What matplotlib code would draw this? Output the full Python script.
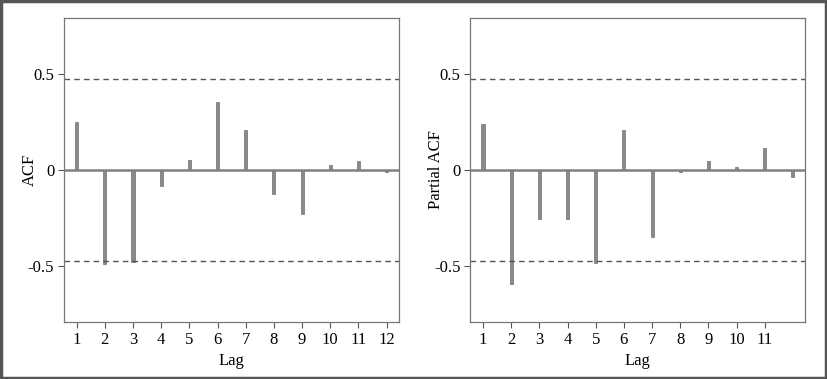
import matplotlib
matplotlib.use("Agg")
import matplotlib.pyplot as plt
from matplotlib.patches import Rectangle

lags = [1, 2, 3, 4, 5, 6, 7, 8, 9, 10, 11, 12]
acf_vals = [0.247, -0.490, -0.476, -0.082, 0.054, 0.351, 0.208, -0.125, -0.229, 0.028, 0.049, -0.009]
pacf_vals = [0.238, -0.592, -0.257, -0.257, -0.481, 0.208, -0.349, -0.009, 0.049, 0.017, 0.116, -0.036]
conf = 0.475
acf_ticks = [1, 2, 3, 4, 5, 6, 7, 8, 9, 10, 11, 12]
pacf_ticks = [1, 2, 3, 4, 5, 6, 7, 8, 9, 10, 11]

plt.rcParams['font.family'] = ['Liberation Serif', 'DejaVu Serif']
plt.rcParams['font.size'] = 12

fig = plt.figure(figsize=(8.27, 3.79), dpi=100)
fig.patches.append(Rectangle((0.0015, 0.002), 0.997, 0.995, transform=fig.transFigure,
                             fill=False, edgecolor='#555555', linewidth=2.5))

ax1 = fig.add_axes([0.0774, 0.1504, 0.4051, 0.8021])
ax2 = fig.add_axes([0.5687, 0.1504, 0.4051, 0.8021])

for ax, vals, ticks, ylab in [(ax1, acf_vals, acf_ticks, 'ACF'),
                              (ax2, pacf_vals, pacf_ticks, 'Partial ACF')]:
    ax.bar(lags, vals, width=0.11, color='#8a8a8a', edgecolor='#707070', linewidth=0.5)
    ax.axhline(0, color='#808080', linewidth=1.8)
    ax.axhline(conf, color='#555555', linewidth=1, linestyle=(0, (4, 3)))
    ax.axhline(-conf, color='#555555', linewidth=1, linestyle=(0, (4, 3)))
    ax.set_xlim(0.55, 12.44)
    ax.set_ylim(-0.79, 0.79)
    ax.set_yticks([-0.5, 0, 0.5])
    ax.set_yticklabels(['-0.5', '0', '0.5'])
    ax.set_xticks(ticks)
    ax.set_xticklabels([str(t) for t in ticks])
    ax.set_xlabel('Lag', labelpad=4)
    ax.set_ylabel(ylab)
    ax.yaxis.set_label_coords(-0.079, 0.5)
    for s in ax.spines.values():
        s.set_color('#777777')
        s.set_linewidth(0.9)
    ax.tick_params(direction='out', length=4, width=0.8, color='#555555', pad=3)

fig.savefig('out.png', dpi=100)
